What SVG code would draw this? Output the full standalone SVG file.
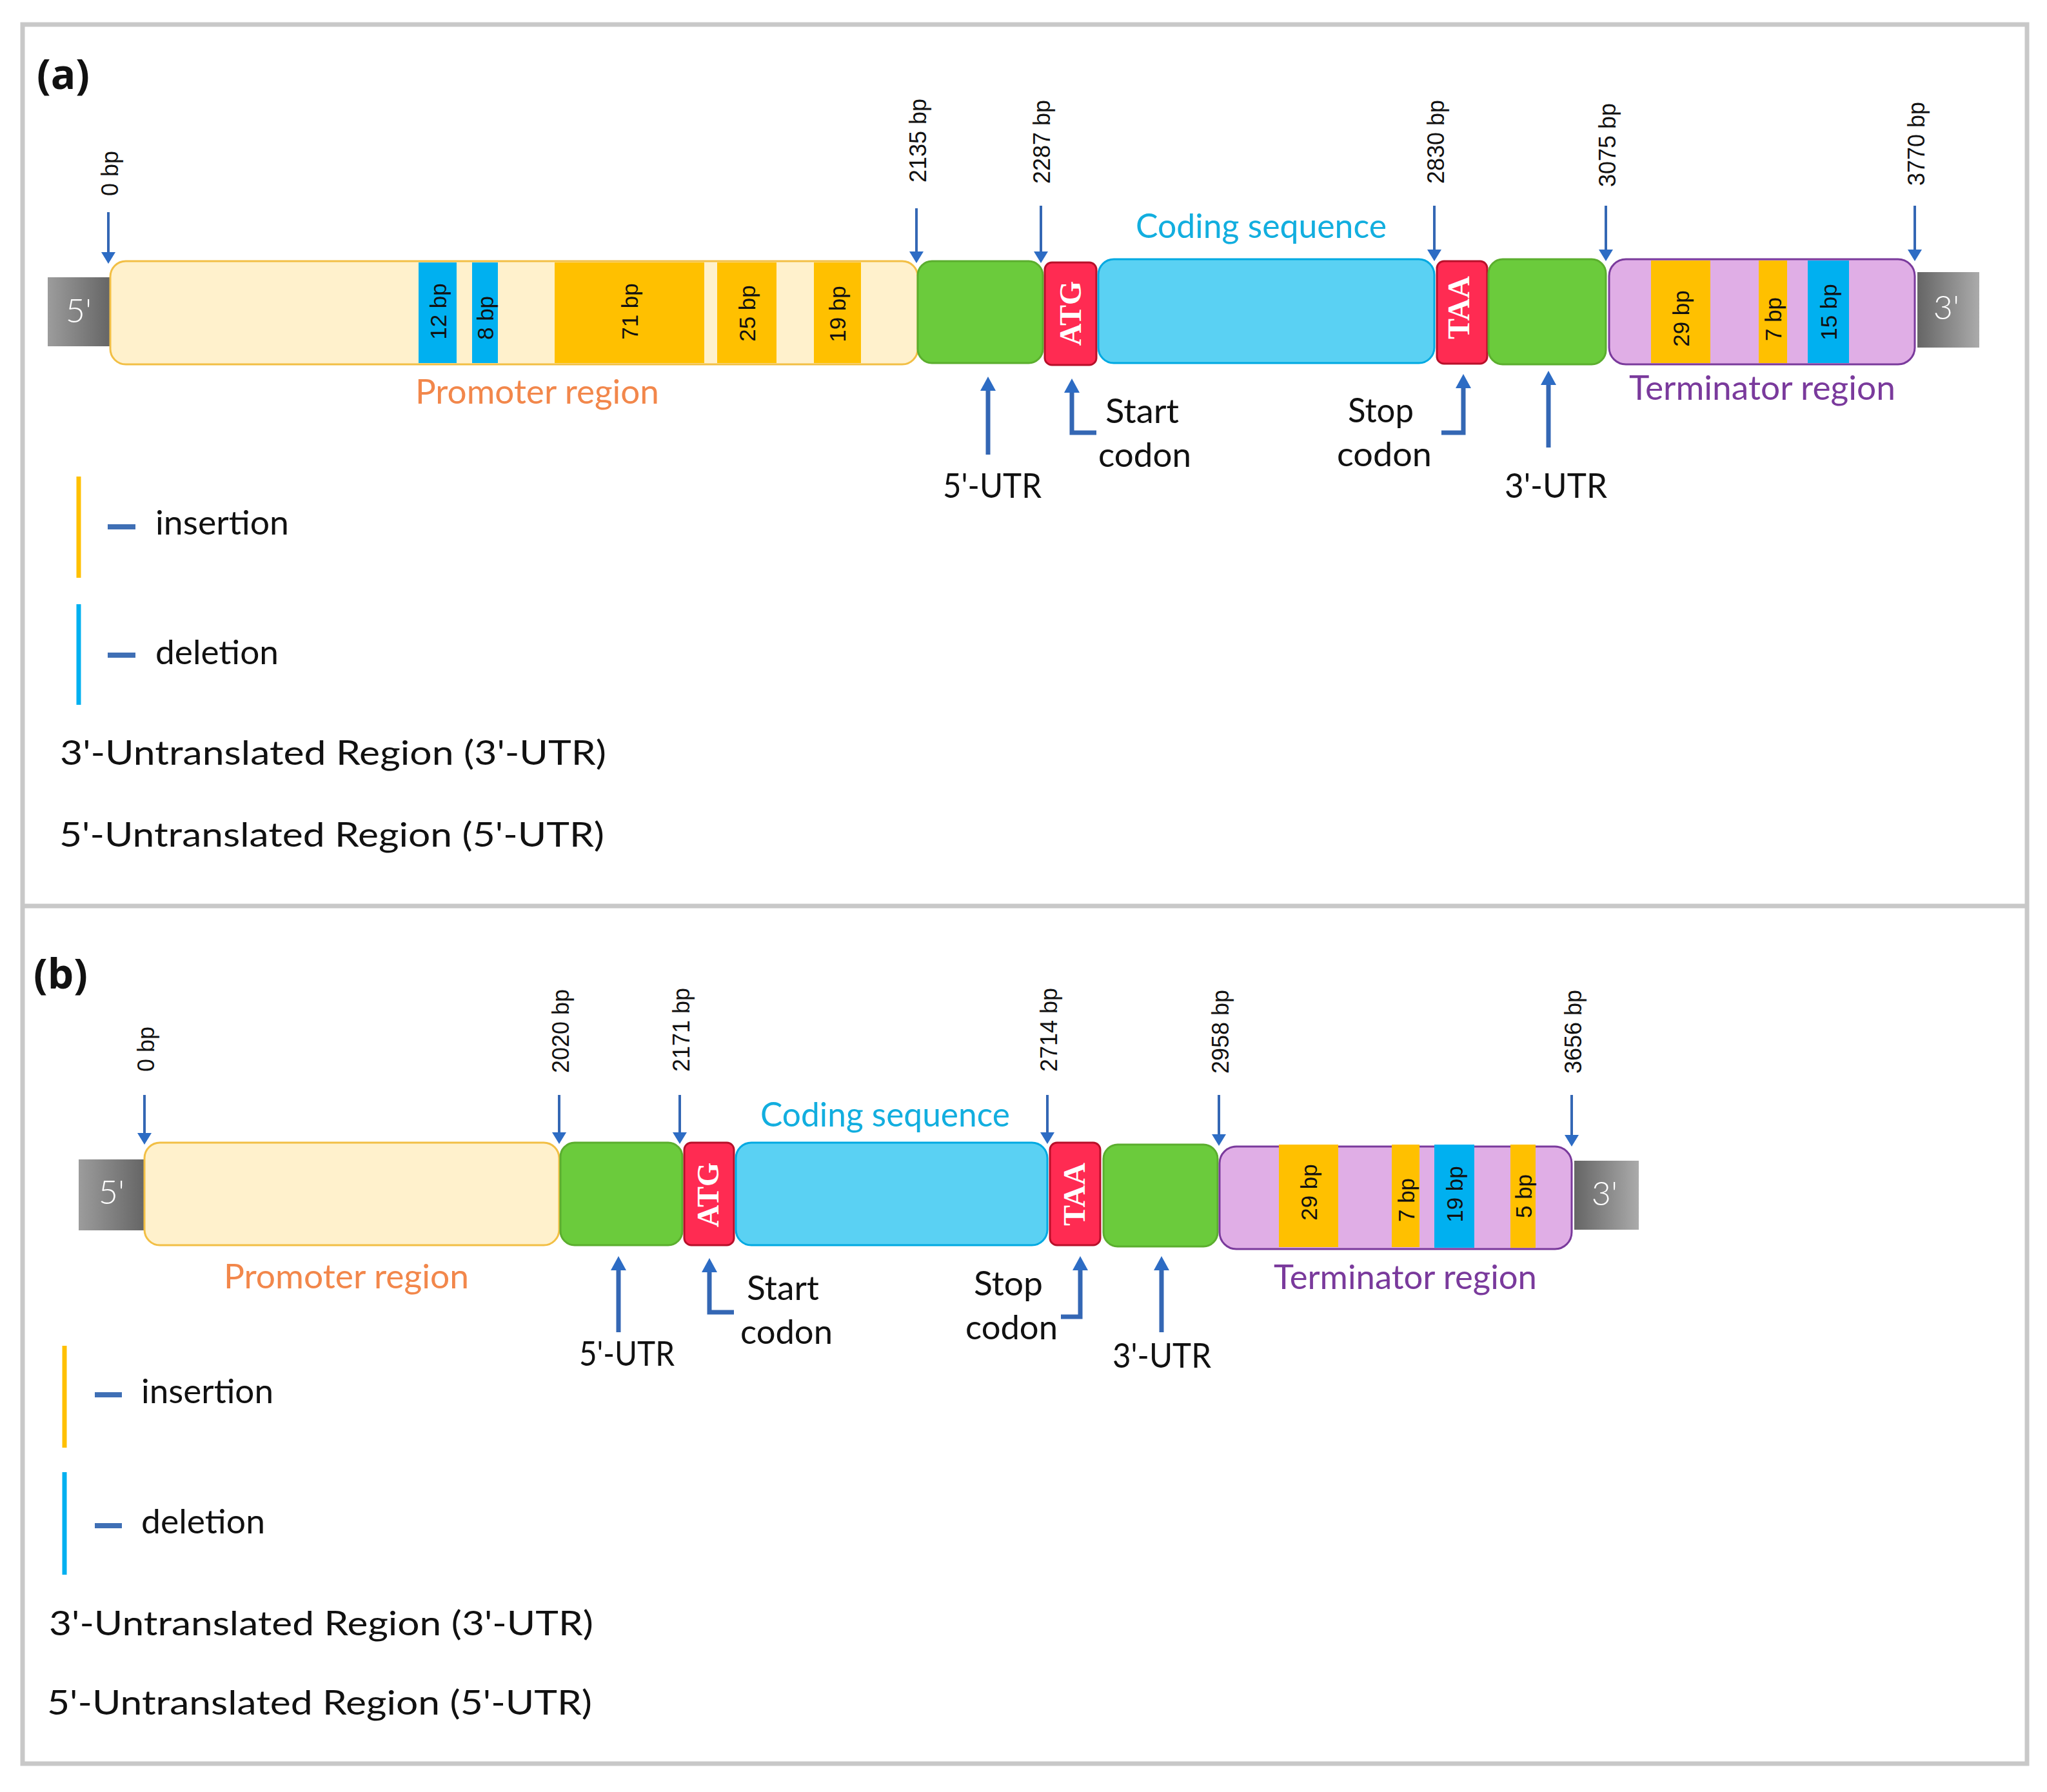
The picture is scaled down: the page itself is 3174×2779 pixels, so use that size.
<svg xmlns="http://www.w3.org/2000/svg" width="3174" height="2779" viewBox="0 0 3174 2779">
<style>
.lbl{font-family:Lato,"Open Sans","Liberation Sans",sans-serif;font-size:52px;fill:#111}
.bp{font-family:"Liberation Sans",Arial,sans-serif;font-size:36px;fill:#111}
.in{font-family:"Liberation Sans",Arial,sans-serif;font-size:35px;fill:#111}
.cod{font-family:"Liberation Serif","Times New Roman",serif;font-size:48px;font-weight:bold;fill:#fff}
.end{font-family:Lato,"Open Sans",sans-serif;font-size:52px;font-weight:300;fill:#fff}
.prom{fill:#FFF1CC;stroke:#F2BF45;stroke-width:3}
.utr{fill:#6BCB3C;stroke:#5BAE2E;stroke-width:3}
.red{fill:#FF2B52;stroke:#B8102A;stroke-width:3}
.cds{fill:#5AD1F3;stroke:#00A9E2;stroke-width:3}
.term{fill:#E0AEE6;stroke:#7A3A9C;stroke-width:3}
.ins{fill:#FFC000}
.del{fill:#00B0F0}
.thin{stroke:#3467B4;stroke-width:4;fill:none}
.thick{stroke:#3467B4;stroke-width:7;fill:none}
.title{font-family:"Open Sans",Lato,sans-serif;font-size:64px;font-weight:bold;fill:#111}
</style>
<defs>
<linearGradient id="g5" x1="0" y1="0" x2="1" y2="0"><stop offset="0" stop-color="#9C9C9C"/><stop offset="1" stop-color="#656565"/></linearGradient>
<linearGradient id="g3" x1="0" y1="0" x2="1" y2="0"><stop offset="0" stop-color="#656565"/><stop offset="1" stop-color="#ABABAB"/></linearGradient>
<marker id="ah" viewBox="0 0 18 22" refX="0" refY="11" markerWidth="18" markerHeight="22" markerUnits="userSpaceOnUse" orient="auto"><path d="M0,0 L18,11 L0,22 z" fill="#2D6CC4"/></marker>
<marker id="ahb" viewBox="0 0 22 24" refX="0" refY="12" markerWidth="22" markerHeight="24" markerUnits="userSpaceOnUse" orient="auto"><path d="M0,0 L22,12 L0,24 z" fill="#2D6CC4"/></marker>
</defs>
<rect width="3174" height="2779" fill="#fff"/>
<g id="frame" fill="none" stroke="#C8C8C8" stroke-width="7">
<rect x="35" y="38" width="3108" height="2697"/>
<line x1="35" y1="1405" x2="3143" y2="1405"/>
</g>

<!-- ============ PANEL A ============ -->
<text class="title" x="57" y="138">(a)</text>

<g id="a-5prime"><rect x="74" y="430" width="97" height="107" fill="url(#g5)"/><text class="end" x="122" y="500" text-anchor="middle">5'</text></g>
<g id="a-promoter">
<rect class="prom" x="171" y="405" width="1252" height="160" rx="24"/>
<rect class="del" x="649" y="407" width="59" height="156"/>
<rect class="del" x="732" y="407" width="40" height="156"/>
<rect class="ins" x="860" y="407" width="232" height="156"/>
<rect class="ins" x="1112" y="407" width="92" height="156"/>
<rect class="ins" x="1262" y="407" width="73" height="156"/>
<text class="in" transform="translate(679,483) rotate(-90)" text-anchor="middle" dy="0.36em">12 bp</text>
<text class="in" transform="translate(752,493) rotate(-90)" text-anchor="middle" dy="0.36em">8 bp</text>
<text class="in" transform="translate(976,483) rotate(-90)" text-anchor="middle" dy="0.36em">71 bp</text>
<text class="in" transform="translate(1158,486) rotate(-90)" text-anchor="middle" dy="0.36em">25 bp</text>
<text class="in" transform="translate(1298,487) rotate(-90)" text-anchor="middle" dy="0.36em">19 bp</text>
<text class="lbl" x="644" y="626" textLength="378" lengthAdjust="spacingAndGlyphs" style="fill:#F2874B">Promoter region</text>
</g>
<g id="a-5utr"><rect class="utr" x="1423" y="405" width="194" height="158" rx="22"/></g>
<g id="a-atg"><rect class="red" x="1620" y="407" width="80" height="159" rx="11"/><text class="cod" transform="translate(1660,486) rotate(-90)" text-anchor="middle" dy="0.34em">ATG</text></g>
<g id="a-cds"><rect class="cds" x="1703" y="402" width="521" height="161" rx="24"/><text class="lbl" x="1761" y="369" textLength="389" lengthAdjust="spacingAndGlyphs" style="fill:#12AEDF">Coding sequence</text></g>
<g id="a-taa"><rect class="red" x="2228" y="405" width="78" height="159" rx="11"/><text class="cod" transform="translate(2262,477) rotate(-90)" text-anchor="middle" dy="0.34em">TAA</text></g>
<g id="a-3utr"><rect class="utr" x="2308" y="402" width="182" height="163" rx="22"/></g>
<g id="a-terminator">
<rect class="term" x="2495" y="402" width="474" height="163" rx="26"/>
<rect class="ins" x="2560" y="404" width="92" height="159"/>
<rect class="ins" x="2727" y="404" width="44" height="159"/>
<rect class="del" x="2803" y="404" width="64" height="159"/>
<text class="in" transform="translate(2606,494) rotate(-90)" text-anchor="middle" dy="0.36em">29 bp</text>
<text class="in" transform="translate(2749,495) rotate(-90)" text-anchor="middle" dy="0.36em">7 bp</text>
<text class="in" transform="translate(2835,484) rotate(-90)" text-anchor="middle" dy="0.36em">15 bp</text>
<text class="lbl" x="2526" y="620" textLength="413" lengthAdjust="spacingAndGlyphs" style="fill:#7A3A9C">Terminator region</text>
</g>
<g id="a-3prime"><rect x="2973" y="422" width="96" height="117" fill="url(#g3)"/><text class="end" x="3018" y="495" text-anchor="middle">3'</text></g>

<g id="a-positions">
<text class="bp" transform="translate(170,269) rotate(-90)" text-anchor="middle" dy="0.36em">0 bp</text>
<text class="bp" transform="translate(1423,218) rotate(-90)" text-anchor="middle" dy="0.36em">2135 bp</text>
<text class="bp" transform="translate(1615,220) rotate(-90)" text-anchor="middle" dy="0.36em">2287 bp</text>
<text class="bp" transform="translate(2226,220) rotate(-90)" text-anchor="middle" dy="0.36em">2830 bp</text>
<text class="bp" transform="translate(2492,225) rotate(-90)" text-anchor="middle" dy="0.36em">3075 bp</text>
<text class="bp" transform="translate(2971,223) rotate(-90)" text-anchor="middle" dy="0.36em">3770 bp</text>
</g>
<g id="a-labels">
<text class="lbl" x="1462" y="772" textLength="153" lengthAdjust="spacingAndGlyphs">5'-UTR</text>
<text class="lbl" x="1714" y="656" textLength="114" lengthAdjust="spacingAndGlyphs">Start</text>
<text class="lbl" x="1703" y="724" textLength="144" lengthAdjust="spacingAndGlyphs">codon</text>
<text class="lbl" x="2090" y="655" textLength="102" lengthAdjust="spacingAndGlyphs">Stop</text>
<text class="lbl" x="2073" y="723" textLength="147" lengthAdjust="spacingAndGlyphs">codon</text>
<text class="lbl" x="2333" y="772" textLength="159" lengthAdjust="spacingAndGlyphs">3'-UTR</text>
</g>
<g id="a-legend">
<line x1="122" y1="739" x2="122" y2="896" stroke="#FFC000" stroke-width="7"/>
<line x1="167" y1="817" x2="210" y2="817" stroke="#3F6FB5" stroke-width="8"/>
<text class="lbl" x="241" y="829" textLength="207" lengthAdjust="spacingAndGlyphs">insertion</text>
<line x1="122" y1="937" x2="122" y2="1093" stroke="#00B0F0" stroke-width="7"/>
<line x1="167" y1="1016" x2="210" y2="1016" stroke="#3F6FB5" stroke-width="8"/>
<text class="lbl" x="241" y="1030" textLength="191" lengthAdjust="spacingAndGlyphs">deletion</text>
<text class="lbl" x="93" y="1186" textLength="847" lengthAdjust="spacingAndGlyphs">3'-Untranslated Region (3'-UTR)</text>
<text class="lbl" x="92" y="1313" textLength="845" lengthAdjust="spacingAndGlyphs">5'-Untranslated Region (5'-UTR)</text>
</g>

<!-- ============ PANEL B ============ -->
<text class="title" x="52" y="1533">(b)</text>

<g id="b-5prime"><rect x="122" y="1798" width="102" height="110" fill="url(#g5)"/><text class="end" x="173" y="1867" text-anchor="middle">5'</text></g>
<g id="b-promoter">
<rect class="prom" x="224" y="1772" width="643" height="159" rx="24"/>
<text class="lbl" x="347" y="1998" textLength="380" lengthAdjust="spacingAndGlyphs" style="fill:#F2874B">Promoter region</text>
</g>
<g id="b-5utr"><rect class="utr" x="869" y="1772" width="189" height="159" rx="22"/></g>
<g id="b-atg"><rect class="red" x="1061" y="1772" width="77" height="159" rx="11"/><text class="cod" transform="translate(1098,1853) rotate(-90)" text-anchor="middle" dy="0.34em">ATG</text></g>
<g id="b-cds"><rect class="cds" x="1141" y="1772" width="483" height="159" rx="24"/><text class="lbl" x="1179" y="1747" textLength="387" lengthAdjust="spacingAndGlyphs" style="fill:#12AEDF">Coding sequence</text></g>
<g id="b-taa"><rect class="red" x="1628" y="1772" width="78" height="159" rx="11"/><text class="cod" transform="translate(1666,1852) rotate(-90)" text-anchor="middle" dy="0.34em">TAA</text></g>
<g id="b-3utr"><rect class="utr" x="1711" y="1775" width="177" height="158" rx="22"/></g>
<g id="b-terminator">
<rect class="term" x="1891" y="1778" width="546" height="159" rx="26"/>
<rect class="ins" x="1983" y="1775" width="92" height="159"/>
<rect class="ins" x="2158" y="1775" width="43" height="159"/>
<rect class="del" x="2224" y="1775" width="62" height="160"/>
<rect class="ins" x="2342" y="1775" width="39" height="160"/>
<text class="in" transform="translate(2029,1849) rotate(-90)" text-anchor="middle" dy="0.36em">29 bp</text>
<text class="in" transform="translate(2180,1861) rotate(-90)" text-anchor="middle" dy="0.36em">7 bp</text>
<text class="in" transform="translate(2255,1852) rotate(-90)" text-anchor="middle" dy="0.36em">19 bp</text>
<text class="in" transform="translate(2362,1855) rotate(-90)" text-anchor="middle" dy="0.36em">5 bp</text>
<text class="lbl" x="1975" y="1999" textLength="408" lengthAdjust="spacingAndGlyphs" style="fill:#7A3A9C">Terminator region</text>
</g>
<g id="b-3prime"><rect x="2441" y="1800" width="100" height="107" fill="url(#g3)"/><text class="end" x="2488" y="1869" text-anchor="middle">3'</text></g>

<g id="b-positions">
<text class="bp" transform="translate(226,1627) rotate(-90)" text-anchor="middle" dy="0.36em">0 bp</text>
<text class="bp" transform="translate(869,1599) rotate(-90)" text-anchor="middle" dy="0.36em">2020 bp</text>
<text class="bp" transform="translate(1056,1597) rotate(-90)" text-anchor="middle" dy="0.36em">2171 bp</text>
<text class="bp" transform="translate(1626,1597) rotate(-90)" text-anchor="middle" dy="0.36em">2714 bp</text>
<text class="bp" transform="translate(1892,1600) rotate(-90)" text-anchor="middle" dy="0.36em">2958 bp</text>
<text class="bp" transform="translate(2439,1600) rotate(-90)" text-anchor="middle" dy="0.36em">3656 bp</text>
</g>
<g id="b-labels">
<text class="lbl" x="898" y="2118" textLength="148" lengthAdjust="spacingAndGlyphs">5'-UTR</text>
<text class="lbl" x="1158" y="2016" textLength="112" lengthAdjust="spacingAndGlyphs">Start</text>
<text class="lbl" x="1148" y="2084" textLength="143" lengthAdjust="spacingAndGlyphs">codon</text>
<text class="lbl" x="1510" y="2009" textLength="107" lengthAdjust="spacingAndGlyphs">Stop</text>
<text class="lbl" x="1497" y="2077" textLength="143" lengthAdjust="spacingAndGlyphs">codon</text>
<text class="lbl" x="1725" y="2121" textLength="153" lengthAdjust="spacingAndGlyphs">3'-UTR</text>
</g>
<g id="b-legend">
<line x1="100" y1="2087" x2="100" y2="2245" stroke="#FFC000" stroke-width="7"/>
<line x1="147" y1="2163" x2="189" y2="2163" stroke="#3F6FB5" stroke-width="8"/>
<text class="lbl" x="219" y="2176" textLength="205" lengthAdjust="spacingAndGlyphs">insertion</text>
<line x1="100" y1="2283" x2="100" y2="2442" stroke="#00B0F0" stroke-width="7"/>
<line x1="147" y1="2366" x2="189" y2="2366" stroke="#3F6FB5" stroke-width="8"/>
<text class="lbl" x="219" y="2378" textLength="192" lengthAdjust="spacingAndGlyphs">deletion</text>
<text class="lbl" x="76" y="2536" textLength="844" lengthAdjust="spacingAndGlyphs">3'-Untranslated Region (3'-UTR)</text>
<text class="lbl" x="73" y="2659" textLength="845" lengthAdjust="spacingAndGlyphs">5'-Untranslated Region (5'-UTR)</text>
</g>

<g id="connectors">
<!-- panel a position arrows -->
<path class="thin" d="M168,329 V391" marker-end="url(#ah)"/>
<path class="thin" d="M1421,323 V390" marker-end="url(#ah)"/>
<path class="thin" d="M1614,319 V390" marker-end="url(#ah)"/>
<path class="thin" d="M2224,319 V387" marker-end="url(#ah)"/>
<path class="thin" d="M2490,319 V387" marker-end="url(#ah)"/>
<path class="thin" d="M2969,319 V387" marker-end="url(#ah)"/>
<!-- panel a feature arrows -->
<path class="thick" d="M1532,705 V606" marker-end="url(#ahb)"/>
<path class="thick" d="M1700,671 H1662 V609" marker-end="url(#ahb)"/>
<path class="thick" d="M2235,671 H2269 V602" marker-end="url(#ahb)"/>
<path class="thick" d="M2401,694 V597" marker-end="url(#ahb)"/>
<!-- panel b position arrows -->
<path class="thin" d="M224,1698 V1757" marker-end="url(#ah)"/>
<path class="thin" d="M867,1698 V1756" marker-end="url(#ah)"/>
<path class="thin" d="M1054,1698 V1756" marker-end="url(#ah)"/>
<path class="thin" d="M1624,1698 V1756" marker-end="url(#ah)"/>
<path class="thin" d="M1890,1698 V1759" marker-end="url(#ah)"/>
<path class="thin" d="M2437,1698 V1760" marker-end="url(#ah)"/>
<!-- panel b feature arrows -->
<path class="thick" d="M959,2066 V1970" marker-end="url(#ahb)"/>
<path class="thick" d="M1138,2035 H1100 V1973" marker-end="url(#ahb)"/>
<path class="thick" d="M1645,2042 H1675 V1970" marker-end="url(#ahb)"/>
<path class="thick" d="M1801,2066 V1970" marker-end="url(#ahb)"/>
</g>
</svg>
